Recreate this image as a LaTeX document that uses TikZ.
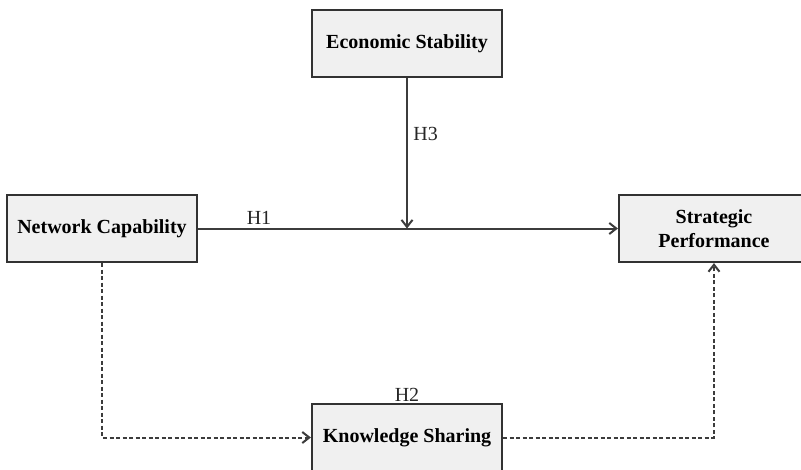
\documentclass[tikz,border=0pt]{standalone}
\usepackage{fontspec}
\setmainfont{Liberation Serif}
\definecolor{boxfill}{RGB}{240, 240, 240}
\definecolor{boxline}{RGB}{50, 50, 50}
\definecolor{linegray}{RGB}{60, 60, 60}
\usetikzlibrary{arrows.meta, positioning, calc}

\begin{document}
\begin{tikzpicture}[
  x=1pt, y=-1pt,
  box/.style={draw=boxline, fill=boxfill, line width=2.2pt, minimum width=190pt, minimum height=67pt, align=center, inner sep=2pt, font=\fontsize{20}{24}\selectfont\bfseries},
  arr/.style={-{Straight Barb[length=7pt, width=11pt]}, line width=2pt, linegray},
  dasharr/.style={arr, dash pattern=on 4pt off 2.5pt},
  hlabel/.style={font=\fontsize{20}{24}\selectfont, text=black!85}
]
  \path[use as bounding box, clip] (0,0) rectangle (801,469);

  \node[box] (econ) at (407, 43.5) {Economic Stability};
  \node[box] (netcap) at (102, 228.5) {Network Capability};
  \node[box] (stratperf) at (714, 228.5) {Strategic\\Performance};
  \node[box, label={[hlabel, yshift=-2pt]above:H2}] (knowshare) at (407, 437.5) {Knowledge Sharing};

  \coordinate (meet) at (econ.south |- netcap.east);

  \draw[arr] (netcap) -- (stratperf) node[pos=0.145, above, hlabel] {H1};
  \draw[arr] (econ) -- (meet) node[pos=0.37, right, hlabel, xshift=2pt] {H3};
  \draw[dasharr] (netcap) |- (knowshare);
  \draw[dasharr] (knowshare) -| (stratperf);
\end{tikzpicture}
\end{document}
